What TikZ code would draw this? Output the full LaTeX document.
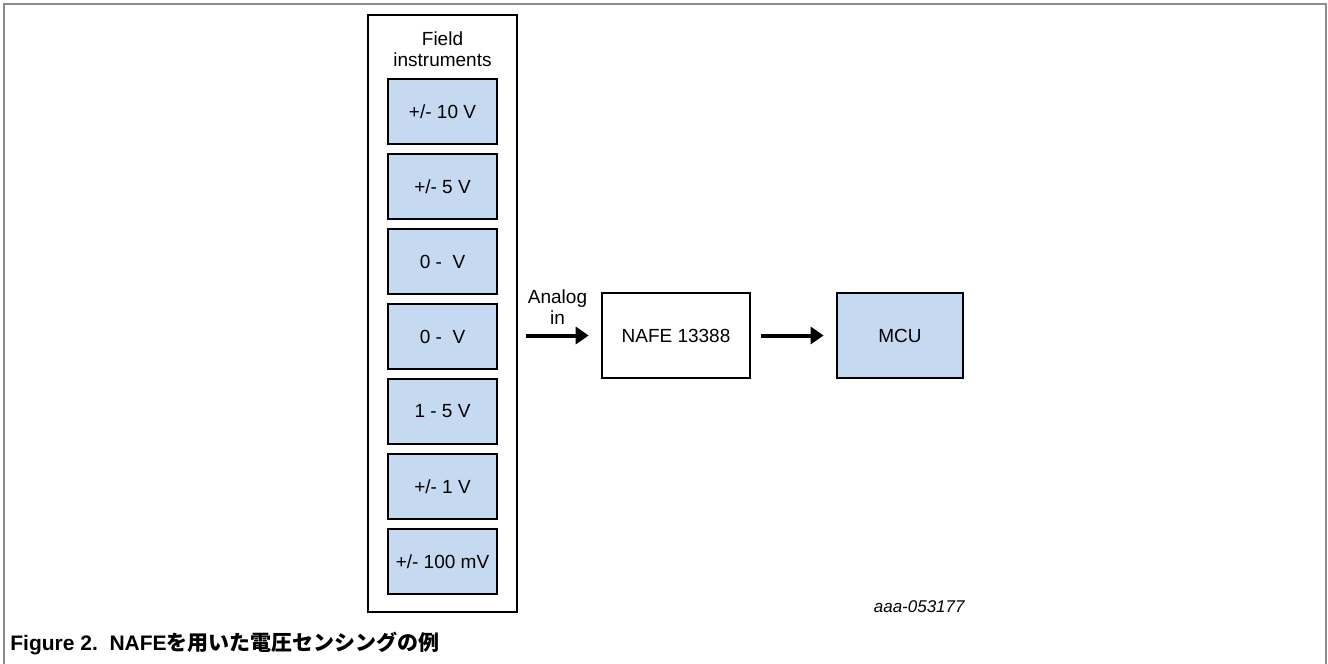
\documentclass[tikz,border=0pt]{standalone}
\usepackage{fontspec}
\setmainfont{Liberation Sans}
\newfontfamily\jpfont{Noto Sans CJK JP}
\usetikzlibrary{arrows.meta,positioning}
\definecolor{rangeblue}{RGB}{197,217,241}
\definecolor{pagegray}{RGB}{140,140,140}
\tikzset{
    labeltext/.style={align=center,inner sep=0pt,font=\fontsize{9.5}{10.5}\selectfont},
    block/.style={labeltext,draw,line width=1.35pt},
    rangebox/.style={block,fill=rangeblue,minimum width=54.5pt,minimum height=32.5pt},
    signal/.style={line width=2pt,-{Triangle[length=6.5pt,width=8.5pt]}}
}
\begin{document}
\begin{tikzpicture}[x=0.5pt,y=-0.5pt]
    \useasboundingbox (0,0) rectangle (1328,664);
    \draw[pagegray,line width=1pt] (4,664) -- (4,4) -- (1326,4) -- (1326,664);
    \node[block,minimum width=74.5pt,minimum height=298.5pt] (field) at (442.5,313.5) {};
    \node[labeltext] (fieldlabel) at (442.5,49) {Field\\instruments};
    \foreach \lbl [count=\i] in {+/- 10 V,+/- 5 V,0 -\ \ V,0 -\ \ V,1 - 5 V,+/- 1 V,+/- 100 mV}
        \node[rangebox] (r\i) at (442.5,{111.5+75*(\i-1)}) {\lbl};
    \node[block,minimum width=74pt,minimum height=42.5pt] (nafe) at (676,335.5) {NAFE 13388};
    \node[block,fill=rangeblue,minimum width=63pt,minimum height=42.5pt] (mcu) at (900,335.5) {MCU};
    \draw[signal] ([xshift=4pt]field.east |- nafe) -- ([xshift=-6pt]nafe.west)
        node[labeltext,midway,above=4.5pt] (analog) {Analog\\in};
    \draw[signal] ([xshift=5pt]nafe.east) -- ([xshift=-6pt]mcu.west);
    \node[anchor=east,inner sep=0pt,font=\itshape\fontsize{8.5}{10}\selectfont] (docid) at (965,607) {aaa-053177};
    \node[anchor=west,inner sep=0pt,font=\bfseries\fontsize{10.5}{12}\selectfont] (caption) at (10,643)
        {Figure 2.\ \ NAFE{\jpfont を用いた電圧センシングの例}};
\end{tikzpicture}
\end{document}
